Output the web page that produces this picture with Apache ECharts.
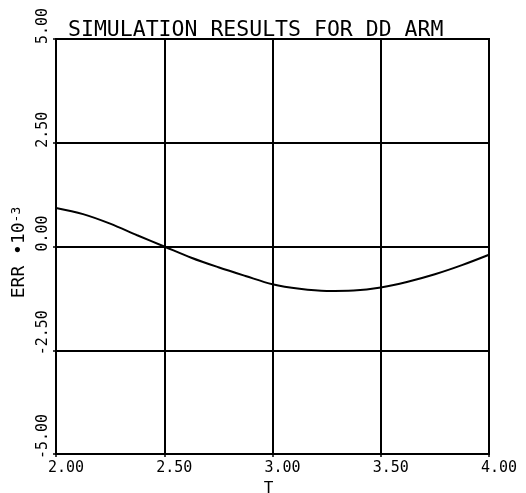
<!DOCTYPE html>
<html>
<head>
<meta charset="utf-8">
<script src="https://cdn.jsdelivr.net/npm/echarts@6/dist/echarts.min.js"></script>
<style>
html,body{margin:0;padding:0;background:#fff;}
#c{width:526px;height:493px;}
</style>
</head>
<body>
<div id="c"></div>
<script>
var titleText = 'SIMULATION RESULTS FOR DD ARM';
var xName = 'T';
var yName = 'ERR \u202210{s|-3}';
var tValues = [2.0, 2.125, 2.25, 2.375, 2.5, 2.625, 2.75, 2.875, 3.0, 3.125, 3.25, 3.375, 3.5, 3.625, 3.75, 3.875, 4.0];
var errValues = [0.93, 0.78, 0.55, 0.27, 0.0, -0.27, -0.50, -0.71, -0.91, -1.02, -1.07, -1.06, -0.99, -0.85, -0.67, -0.45, -0.20];
var xTicks = {min: 2.0, max: 4.0, interval: 0.5};
var yTicks = {min: -5.0, max: 5.0, interval: 2.5};

var FONT = 'DejaVu Sans Mono';
var chart = echarts.init(document.getElementById('c'), null, {renderer: 'canvas'});
var data = tValues.map(function (t, i) { return [t, errValues[i]]; });
chart.setOption({
  animation: false,
  backgroundColor: '#ffffff',
  title: {
    text: titleText,
    left: 68, top: 19, padding: 0,
    textStyle: {fontFamily: FONT, fontSize: 21.5, fontWeight: 'normal', color: '#000'}
  },
  grid: {left: 56, right: 37, top: 39, bottom: 39, containLabel: false, outerBoundsMode: 'none',
         show: true, borderColor: '#000', borderWidth: 2, backgroundColor: 'transparent'},
  xAxis: {
    type: 'value', min: xTicks.min, max: xTicks.max, interval: xTicks.interval,
    name: xName, nameLocation: 'middle', nameGap: 25,
    nameTextStyle: {fontFamily: FONT, fontSize: 16, color: '#000', padding: [0, 8, 0, 0]},
    axisLine: {show: true, onZero: false, lineStyle: {color: '#000', width: 2}},
    axisTick: {show: true, length: 3, lineStyle: {color: '#000', width: 1.5}},
    splitLine: {show: true, lineStyle: {color: '#000', width: 2}},
    axisLabel: {
      fontFamily: FONT, fontSize: 15, color: '#000', margin: 7,
      align: 'left', padding: [0, 0, 0, -8],
      formatter: function (v) { return v.toFixed(2); }
    }
  },
  yAxis: {
    type: 'value', min: yTicks.min, max: yTicks.max, interval: yTicks.interval,
    name: yName, nameLocation: 'middle', nameGap: 17, nameRotate: 90,
    nameTextStyle: {fontFamily: FONT, fontSize: 18, color: '#000', padding: [0, 12, 0, 0],
      rich: {s: {fontFamily: FONT, fontSize: 13, color: '#000', verticalAlign: 'top', lineHeight: 13}}},
    axisLine: {show: true, onZero: false, lineStyle: {color: '#000', width: 2}},
    axisTick: {show: true, length: 3, lineStyle: {color: '#000', width: 1.5}},
    splitLine: {show: true, lineStyle: {color: '#000', width: 2}},
    axisLabel: {
      fontFamily: FONT, fontSize: 15, color: '#000', margin: 5, rotate: 90,
      align: 'left', verticalAlign: 'bottom', padding: [0, 0, 0, -5],
      formatter: function (v) { return v.toFixed(2); }
    }
  },
  series: [{
    type: 'line', data: data, smooth: 0.35, showSymbol: false,
    lineStyle: {color: '#000', width: 2}, itemStyle: {color: '#000'}
  }]
});
</script>
</body>
</html>
